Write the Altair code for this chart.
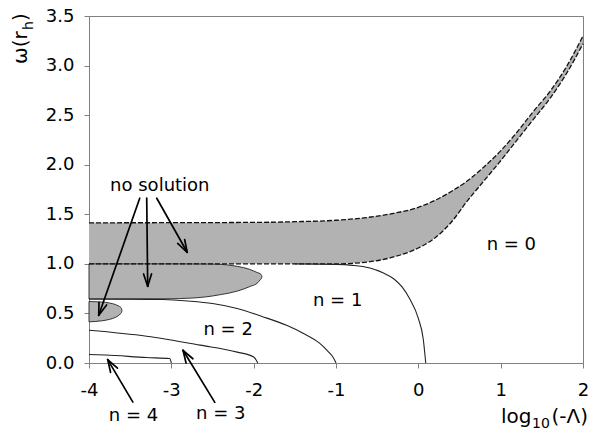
import math
import altair as alt
import pandas as pd

# ---------------- data ----------------
# upper "no solution" band (n = 0 gap)
band_x  = [-4, -2, -1.5, -1, -0.6, -0.3, 0, 0.2, 0.4, 0.6, 0.8, 1.0, 1.2, 1.4, 1.6, 1.8, 2.0]
band_lo = [1.0, 1.0, 1.0, 1.0, 1.02, 1.07, 1.16, 1.26, 1.42, 1.64, 1.84, 2.04, 2.25, 2.46, 2.67, 2.92, 3.22]
band_hi = [1.414, 1.418, 1.425, 1.44, 1.47, 1.51, 1.57, 1.64, 1.73, 1.84, 1.98, 2.14, 2.33, 2.54, 2.74, 2.99, 3.30]

# tongue (n = 1 gap)
tongue_x  = [-4, -3.5, -3.0, -2.6, -2.4, -2.2, -2.05, -1.95, -1.92, -1.905, -1.9]
tongue_lo = [0.645, 0.645, 0.648, 0.665, 0.69, 0.725, 0.77, 0.81, 0.84, 0.855, 0.87]
tongue_hi = [1.0, 1.0, 1.0, 0.999, 0.995, 0.975, 0.945, 0.91, 0.90, 0.885, 0.87]

# small lobe (n = 2 gap)
lobe_x  = [-4, -3.85, -3.75, -3.68, -3.64, -3.62, -3.605, -3.6]
lobe_lo = [0.415, 0.425, 0.44, 0.46, 0.48, 0.495, 0.51, 0.53]
lobe_hi = [0.62, 0.615, 0.605, 0.59, 0.575, 0.565, 0.55, 0.53]

# solution branches
n1_x = [-1.5, -1.0, -0.8, -0.6, -0.43, -0.3, -0.2, -0.1, 0.0, 0.06, 0.09]
n1_y = [1.0, 0.995, 0.985, 0.96, 0.91, 0.85, 0.77, 0.64, 0.45, 0.24, 0.0]
n2_x = [-4, -3.5, -3.1, -2.8, -2.5, -2.2, -1.9, -1.6, -1.4, -1.2, -1.1, -1.03, -1.0]
n2_y = [0.645, 0.644, 0.64, 0.625, 0.6, 0.55, 0.47, 0.38, 0.30, 0.2, 0.12, 0.05, 0.0]
n3_x = [-4, -3.3, -2.65, -2.2, -2.0, -1.97, -1.95]
n3_y = [0.33, 0.27, 0.18, 0.11, 0.06, 0.03, 0.0]
n4_x = [-4, -3.8, -3.3, -3.02, -3.0]
n4_y = [0.085, 0.08, 0.055, 0.045, 0.0]

# annotations
label_text = ["no solution", "n = 0", "n = 1", "n = 2", "n = 3", "n = 4"]
label_x    = [-3.14, 1.13, -0.98, -2.31, -2.40, -3.46]
label_y    = [1.79, 1.19, 0.63, 0.33, -0.51, -0.53]

arrow_x1 = [-3.384, -3.299, -3.177, -3.467, -2.472]
arrow_y1 = [1.662, 1.662, 1.662, -0.394, -0.397]
arrow_x2 = [-3.882, -3.287, -2.807, -3.773, -2.858]
arrow_y2 = [0.481, 0.774, 1.117, 0.034, 0.128]

x_ticks = [-4, -3, -2, -1, 0, 1, 2]
y_ticks = [0.0, 0.5, 1.0, 1.5, 2.0, 2.5, 3.0, 3.5]

# axis titles, split so the subscripts can be drawn at their own size
x_title_parts = ["log", "10", "(-Λ)"]
y_title_parts = ["ω(r", "h", ")"]

# ---------------- layout ----------------
W, H = 494, 347
SX, SY = W / 6.0, H / 3.5
FONT = "DejaVu Sans"
GRAY = "#b2b2b2"

xs = alt.Scale(domain=[-4, 2], nice=False, zero=False)
ys = alt.Scale(domain=[0, 3.5], nice=False, zero=False)
xaxis = alt.Axis(values=x_ticks, labelExpr="toString(datum.value)", grid=False, title=None,
                 labelFont=FONT, labelFontSize=18, labelColor="black", labelPadding=13,
                 tickSize=5, tickColor="#808080", domainColor="#808080", labelFlush=False)
yaxis = alt.Axis(values=y_ticks, format=".1f", grid=False, title=None,
                 labelFont=FONT, labelFontSize=18, labelColor="black", labelPadding=10,
                 tickSize=5, tickColor="#808080", domainColor="#808080", labelFlush=False)

X = lambda f: alt.X(f, scale=xs, axis=xaxis)
Y = lambda f: alt.Y(f, scale=ys, axis=yaxis)

band_df = pd.DataFrame({"x": band_x, "lo": band_lo, "hi": band_hi})
tongue_df = pd.DataFrame({"x": tongue_x, "lo": tongue_lo, "hi": tongue_hi})
lobe_df = pd.DataFrame({"x": lobe_x, "lo": lobe_lo, "hi": lobe_hi})

band = alt.Chart(band_df).mark_area(interpolate="monotone", color=GRAY).encode(
    x=X("x:Q"), y=Y("lo:Q"), y2="hi:Q")
tongue = alt.Chart(tongue_df).mark_area(interpolate="monotone", fill=GRAY,
                                        stroke="#222", strokeWidth=0.9).encode(
    x=X("x:Q"), y=Y("lo:Q"), y2="hi:Q")
lobe = alt.Chart(lobe_df).mark_area(interpolate="monotone", fill=GRAY,
                                    stroke="#222", strokeWidth=0.9).encode(
    x=X("x:Q"), y=Y("lo:Q"), y2="hi:Q")

# band edges, dashed
edge_rows = []
for i, (x, lo, hi) in enumerate(zip(band_x, band_lo, band_hi)):
    edge_rows.append({"s": "lo", "x": x, "y": lo, "o": i})
    edge_rows.append({"s": "hi", "x": x, "y": hi, "o": i})
edges = alt.Chart(pd.DataFrame(edge_rows)).mark_line(
    interpolate="monotone", color="#111", strokeWidth=1.3, strokeDash=[5, 2]).encode(
    x=X("x:Q"), y=Y("y:Q"), detail="s:N", order="o:Q")

curve_rows = []
for name, cx, cy in [("n1", n1_x, n1_y), ("n2", n2_x, n2_y),
                     ("n3", n3_x, n3_y), ("n4", n4_x, n4_y)]:
    for i, (x, y) in enumerate(zip(cx, cy)):
        curve_rows.append({"s": name, "x": x, "y": y, "o": i})
curves = alt.Chart(pd.DataFrame(curve_rows)).mark_line(
    interpolate="monotone", color="#222", strokeWidth=1.1).encode(
    x=X("x:Q"), y=Y("y:Q"), detail="s:N", order="o:Q")

# arrows: shafts + V heads
seg_rows = []
for x1, y1, x2, y2 in zip(arrow_x1, arrow_y1, arrow_x2, arrow_y2):
    seg_rows.append({"x": x1, "y": y1, "x2": x2, "y2": y2})
    dx, dy = (x1 - x2) * SX, (y1 - y2) * SY
    L = math.hypot(dx, dy)
    ux, uy = dx / L, dy / L
    for a in (math.radians(18), -math.radians(18)):
        rx = ux * math.cos(a) - uy * math.sin(a)
        ry = ux * math.sin(a) + uy * math.cos(a)
        seg_rows.append({"x": x2, "y": y2, "x2": x2 + rx * 13 / SX, "y2": y2 + ry * 13 / SY})
arrows = alt.Chart(pd.DataFrame(seg_rows)).mark_rule(
    color="black", strokeWidth=1.7, strokeCap="round").encode(
    x=X("x:Q"), y=Y("y:Q"), x2="x2:Q", y2="y2:Q")

labels_df = pd.DataFrame({"x": label_x, "y": label_y, "t": label_text})
labels = alt.Chart(labels_df).mark_text(
    font=FONT, fontSize=18, color="black", align="center", baseline="middle").encode(
    x=X("x:Q"), y=Y("y:Q"), text="t:N")

# axis titles (pixel offsets from plot origin; layout only)
title_ds = alt.Chart(pd.DataFrame({"d": [0]}))
xt_log = title_ds.mark_text(font=FONT, fontSize=20, align="left", baseline="alphabetic",
                            color="black", text=x_title_parts[0]).encode(
    x=alt.value(W - 82), y=alt.value(H + 60))
xt_sub = title_ds.mark_text(font=FONT, fontSize=14, align="left", baseline="alphabetic",
                            color="black", text=x_title_parts[1]).encode(
    x=alt.value(W - 51), y=alt.value(H + 65))
xt_rest = title_ds.mark_text(font=FONT, fontSize=20, align="right", baseline="alphabetic",
                             color="black", text=x_title_parts[2]).encode(
    x=alt.value(W + 5), y=alt.value(H + 60))

yt_main = title_ds.mark_text(font=FONT, fontSize=20, align="left", baseline="alphabetic",
                             angle=270, color="black", text=y_title_parts[0]).encode(
    x=alt.value(-62), y=alt.value(48))
yt_sub = title_ds.mark_text(font=FONT, fontSize=14, align="left", baseline="alphabetic",
                            angle=270, color="black", text=y_title_parts[1]).encode(
    x=alt.value(-56), y=alt.value(14))
yt_end = title_ds.mark_text(font=FONT, fontSize=20, align="left", baseline="alphabetic",
                            angle=270, color="black", text=y_title_parts[2]).encode(
    x=alt.value(-62), y=alt.value(5))

chart = alt.layer(band, tongue, lobe, edges, curves, arrows, labels,
                  xt_log, xt_sub, xt_rest, yt_main, yt_sub, yt_end).properties(
    width=W, height=H,
    autosize=alt.AutoSizeParams(type="none"),
    padding={"left": 89, "top": 16, "right": 7, "bottom": 71},
    background="white",
).configure_view(stroke="#808080", strokeWidth=1)

chart.save("out.html", embed_options={"renderer": "svg", "actions": False})
